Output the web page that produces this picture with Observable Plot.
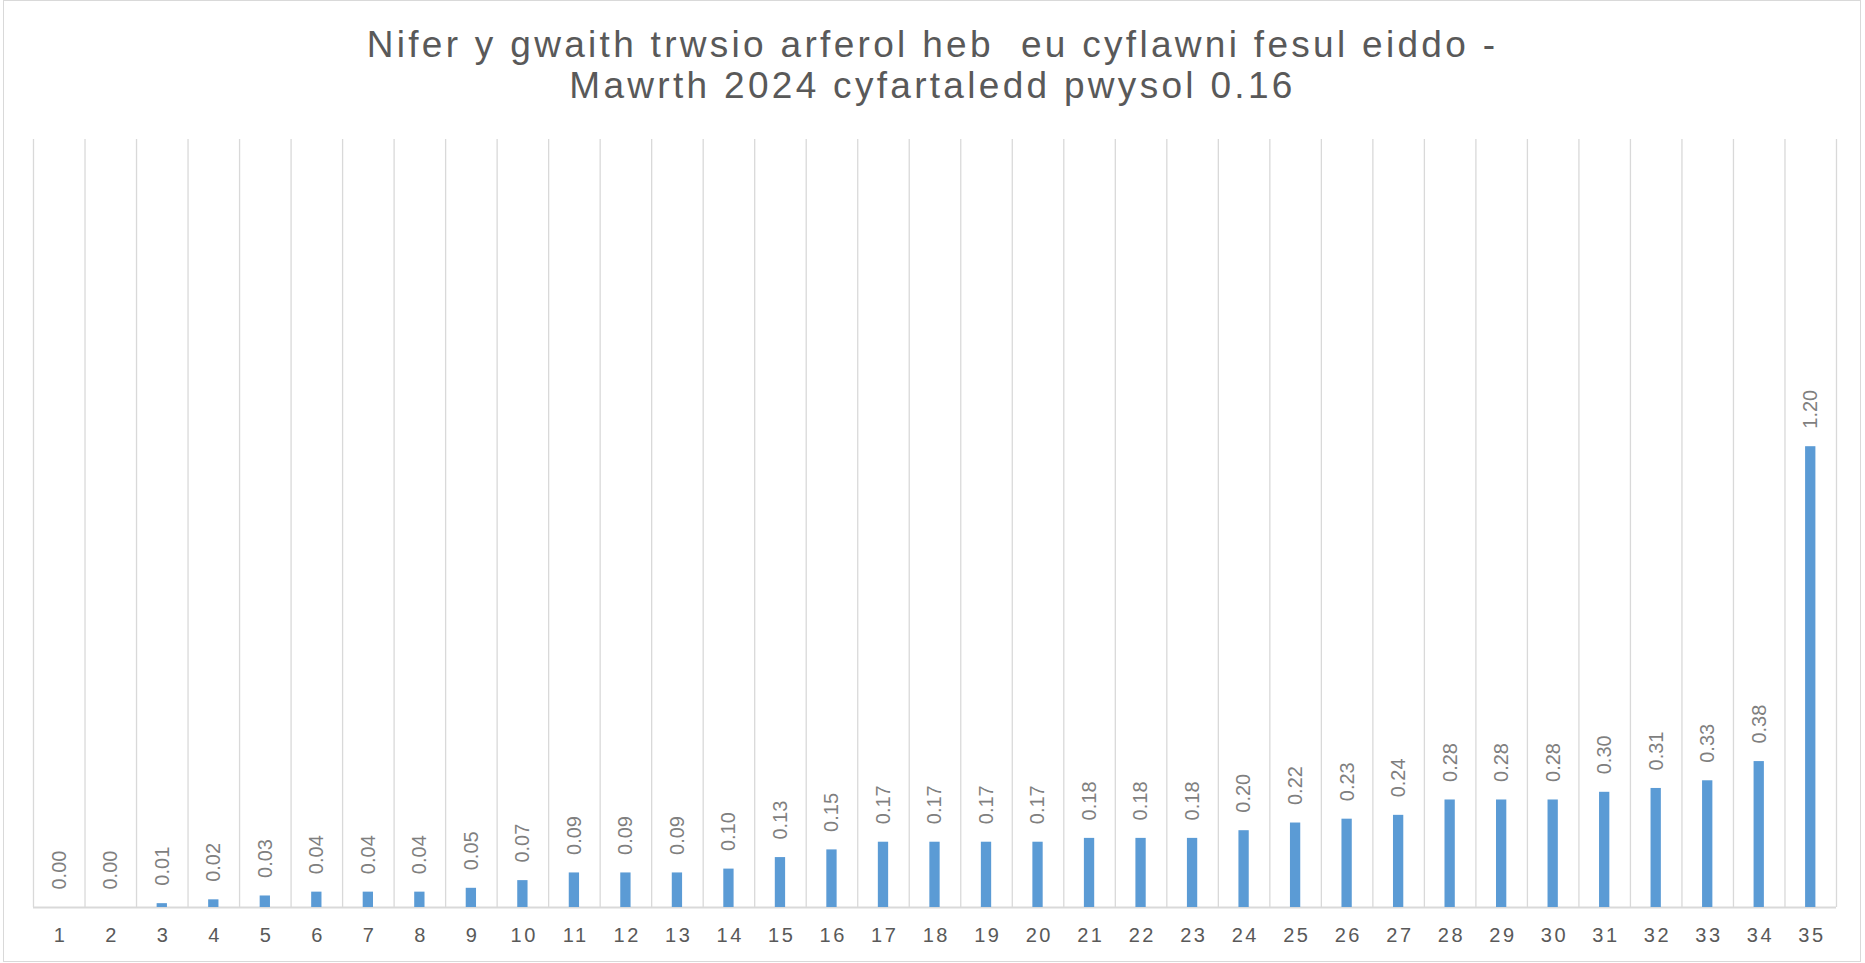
<!DOCTYPE html>
<html><head><meta charset="utf-8">
<script src="https://cdn.jsdelivr.net/npm/d3@7"></script>
<script src="https://cdn.jsdelivr.net/npm/@observablehq/plot@0.6"></script>
<style>
body{margin:0;background:#fff;}
#wrap{position:relative;width:1865px;height:963px;overflow:hidden;font-family:"Liberation Sans",Arial,sans-serif;background:#fff;}
#frame{position:absolute;left:3px;top:0;width:1858px;height:962px;border:1.5px solid #d9d9d9;box-sizing:border-box;}
#title{position:absolute;top:24px;left:0;width:1865px;text-align:center;font-size:37px;line-height:41px;letter-spacing:3.3px;color:#595959;white-space:pre;}
#chart{position:absolute;left:0;top:0;}
g[aria-label="x-axis tick label"] text{letter-spacing:2.5px;}
</style></head>
<body><div id="wrap"><div id="frame"></div><div id="title"></div><div id="chart"></div></div>
<script>
const titleLines = ["Nifer y gwaith trwsio arferol heb  eu cyflawni fesul eiddo -", "Mawrth 2024 cyfartaledd pwysol 0.16"];
const tickLabels = ["1","2","3","4","5","6","7","8","9","10","11","12","13","14","15","16","17","18","19","20","21","22","23","24","25","26","27","28","29","30","31","32","33","34","35"];
const values = [0.00,0.00,0.01,0.02,0.03,0.04,0.04,0.04,0.05,0.07,0.09,0.09,0.09,0.10,0.13,0.15,0.17,0.17,0.17,0.17,0.18,0.18,0.18,0.20,0.22,0.23,0.24,0.28,0.28,0.28,0.30,0.31,0.33,0.38,1.20];

document.getElementById("title").textContent = titleLines.join("\n");

const data = values.map((v, i) => ({pos: i + 1, label: tickLabels[i], v}));
const positions = data.map(d => d.pos);
const boundaries = [0.5, ...positions.map(p => p + 0.5)];

const chart = Plot.plot({
  width: 1865, height: 963,
  marginLeft: 33, marginRight: 29, marginTop: 139, marginBottom: 56,
  x: {domain: [0.5, 35.5], axis: null},
  y: {domain: [0, 2], axis: null},
  style: {fontFamily: "Liberation Sans, Arial, sans-serif", background: "transparent", overflow: "visible"},
  marks: [
    Plot.ruleX(boundaries, {y1: 0, y2: 2, stroke: "#d9d9d9", strokeWidth: 1.3}),
    Plot.ruleY([0], {stroke: "#d9d9d9", strokeWidth: 2}),
    Plot.rectY(data, {x1: d => d.pos - 0.1, x2: d => d.pos + 0.1, y: "v", fill: "#5b9bd5"}),
    Plot.text(data, {x: "pos", y: "v", text: d => d.v.toFixed(2), rotate: -90, textAnchor: "start", lineAnchor: "middle", dy: -18, fill: "#7f7f7f", fontSize: 20}),
    Plot.axisX(positions, {tickFormat: (d) => tickLabels[d - 1], tickSize: 0, tickPadding: 20, fontSize: 20, fill: "#595959", dx: 1.25, label: null})
  ]
});
document.getElementById("chart").appendChild(chart);
</script>
</body></html>
